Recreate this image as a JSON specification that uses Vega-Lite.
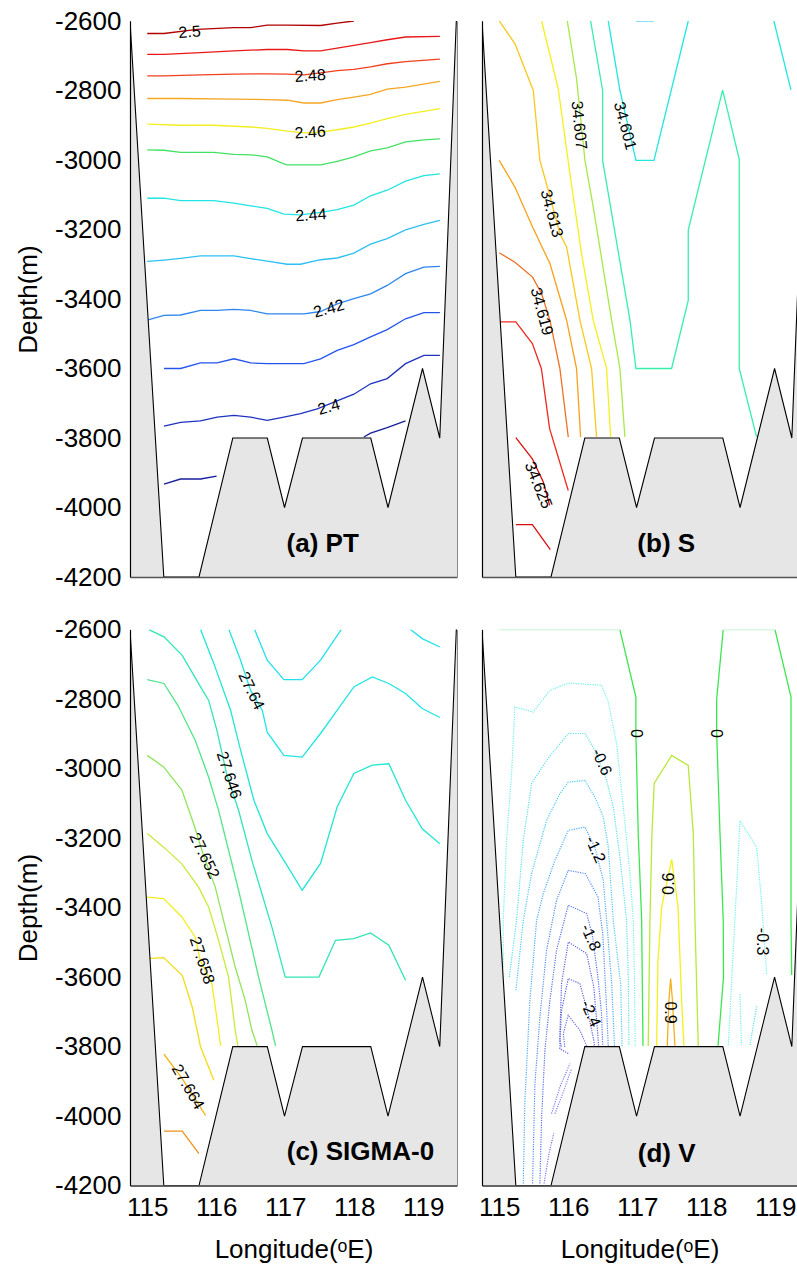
{
"$schema":"https://vega.github.io/schema/vega-lite/v6.json",
"padding":{"left":15,"top":8,"right":0,"bottom":0},
"config":{"view":{"stroke":null},"font":"Liberation Sans","axis":{"grid":false,"labelFont":"Liberation Sans","titleFont":"Liberation Sans"},"text":{"font":"Liberation Sans"}},
"datasets":{
"bathy":[{"lon":114.75,"depth":-2600},{"lon":115.24,"depth":-4200},{"lon":115.75,"depth":-4200},{"lon":116.24,"depth":-3800},{"lon":116.74,"depth":-3800},{"lon":116.99,"depth":-4000},{"lon":117.25,"depth":-3800},{"lon":118.24,"depth":-3800},{"lon":118.49,"depth":-4000},{"lon":118.99,"depth":-3600},{"lon":119.24,"depth":-3800},{"lon":119.48,"depth":-2600},{"lon":119.6,"depth":-2600}],
"pt":[
{"id":"a1","level":"2.50","lon":115.0,"depth":-2636},{"id":"a1","level":"2.50","lon":115.242,"depth":-2636},{"id":"a1","level":"2.50","lon":115.725,"depth":-2624},{"id":"a1","level":"2.50","lon":116.256,"depth":-2619},{"id":"a1","level":"2.50","lon":116.498,"depth":-2619},{"id":"a1","level":"2.50","lon":116.739,"depth":-2612},{"id":"a1","level":"2.50","lon":117.029,"depth":-2612},{"id":"a1","level":"2.50","lon":117.512,"depth":-2613},{"id":"a1","level":"2.50","lon":117.754,"depth":-2606},{"id":"a1","level":"2.50","lon":117.995,"depth":-2600},
{"id":"a2","level":"2.49","lon":115.0,"depth":-2696},{"id":"a2","level":"2.49","lon":115.242,"depth":-2696},{"id":"a2","level":"2.49","lon":115.773,"depth":-2691},{"id":"a2","level":"2.49","lon":116.256,"depth":-2686},{"id":"a2","level":"2.49","lon":116.739,"depth":-2682},{"id":"a2","level":"2.49","lon":117.029,"depth":-2682},{"id":"a2","level":"2.49","lon":117.271,"depth":-2686},{"id":"a2","level":"2.49","lon":117.512,"depth":-2686},{"id":"a2","level":"2.49","lon":117.754,"depth":-2678},{"id":"a2","level":"2.49","lon":117.995,"depth":-2670},{"id":"a2","level":"2.49","lon":118.237,"depth":-2662},{"id":"a2","level":"2.49","lon":118.478,"depth":-2654},{"id":"a2","level":"2.49","lon":118.744,"depth":-2646},{"id":"a2","level":"2.49","lon":119.242,"depth":-2644},
{"id":"a3","level":"2.48","lon":115.0,"depth":-2758},{"id":"a3","level":"2.48","lon":115.242,"depth":-2758},{"id":"a3","level":"2.48","lon":115.773,"depth":-2755},{"id":"a3","level":"2.48","lon":116.256,"depth":-2753},{"id":"a3","level":"2.48","lon":116.739,"depth":-2752},{"id":"a3","level":"2.48","lon":117.029,"depth":-2753},{"id":"a3","level":"2.48","lon":117.271,"depth":-2755},{"id":"a3","level":"2.48","lon":117.512,"depth":-2749},{"id":"a3","level":"2.48","lon":117.754,"depth":-2743},{"id":"a3","level":"2.48","lon":117.995,"depth":-2739},{"id":"a3","level":"2.48","lon":118.237,"depth":-2732},{"id":"a3","level":"2.48","lon":118.478,"depth":-2723},{"id":"a3","level":"2.48","lon":118.744,"depth":-2717},{"id":"a3","level":"2.48","lon":119.242,"depth":-2710},
{"id":"a4","level":"2.47","lon":115.0,"depth":-2823},{"id":"a4","level":"2.47","lon":115.483,"depth":-2823},{"id":"a4","level":"2.47","lon":116.256,"depth":-2825},{"id":"a4","level":"2.47","lon":116.739,"depth":-2826},{"id":"a4","level":"2.47","lon":117.029,"depth":-2828},{"id":"a4","level":"2.47","lon":117.271,"depth":-2836},{"id":"a4","level":"2.47","lon":117.512,"depth":-2836},{"id":"a4","level":"2.47","lon":117.754,"depth":-2826},{"id":"a4","level":"2.47","lon":117.995,"depth":-2819},{"id":"a4","level":"2.47","lon":118.237,"depth":-2811},{"id":"a4","level":"2.47","lon":118.478,"depth":-2796},{"id":"a4","level":"2.47","lon":118.744,"depth":-2790},{"id":"a4","level":"2.47","lon":119.242,"depth":-2774},
{"id":"a5","level":"2.46","lon":115.0,"depth":-2897},{"id":"a5","level":"2.46","lon":115.483,"depth":-2900},{"id":"a5","level":"2.46","lon":115.966,"depth":-2900},{"id":"a5","level":"2.46","lon":116.498,"depth":-2905},{"id":"a5","level":"2.46","lon":116.739,"depth":-2909},{"id":"a5","level":"2.46","lon":117.029,"depth":-2917},{"id":"a5","level":"2.46","lon":117.271,"depth":-2922},{"id":"a5","level":"2.46","lon":117.512,"depth":-2920},{"id":"a5","level":"2.46","lon":117.754,"depth":-2913},{"id":"a5","level":"2.46","lon":117.995,"depth":-2905},{"id":"a5","level":"2.46","lon":118.237,"depth":-2894},{"id":"a5","level":"2.46","lon":118.478,"depth":-2881},{"id":"a5","level":"2.46","lon":118.744,"depth":-2869},{"id":"a5","level":"2.46","lon":119.242,"depth":-2852},
{"id":"a6","level":"2.45","lon":115.0,"depth":-2971},{"id":"a6","level":"2.45","lon":115.242,"depth":-2972},{"id":"a6","level":"2.45","lon":115.483,"depth":-2978},{"id":"a6","level":"2.45","lon":115.966,"depth":-2978},{"id":"a6","level":"2.45","lon":116.256,"depth":-2984},{"id":"a6","level":"2.45","lon":116.498,"depth":-2985},{"id":"a6","level":"2.45","lon":116.739,"depth":-2991},{"id":"a6","level":"2.45","lon":116.981,"depth":-3011},{"id":"a6","level":"2.45","lon":117.029,"depth":-3014},{"id":"a6","level":"2.45","lon":117.512,"depth":-3014},{"id":"a6","level":"2.45","lon":117.754,"depth":-3004},{"id":"a6","level":"2.45","lon":117.995,"depth":-2991},{"id":"a6","level":"2.45","lon":118.237,"depth":-2974},{"id":"a6","level":"2.45","lon":118.478,"depth":-2965},{"id":"a6","level":"2.45","lon":118.744,"depth":-2948},{"id":"a6","level":"2.45","lon":119.01,"depth":-2942},{"id":"a6","level":"2.45","lon":119.242,"depth":-2939},
{"id":"a7","level":"2.44","lon":115.0,"depth":-3110},{"id":"a7","level":"2.44","lon":115.242,"depth":-3110},{"id":"a7","level":"2.44","lon":115.483,"depth":-3117},{"id":"a7","level":"2.44","lon":115.966,"depth":-3117},{"id":"a7","level":"2.44","lon":116.256,"depth":-3124},{"id":"a7","level":"2.44","lon":116.498,"depth":-3132},{"id":"a7","level":"2.44","lon":116.739,"depth":-3139},{"id":"a7","level":"2.44","lon":116.981,"depth":-3156},{"id":"a7","level":"2.44","lon":117.222,"depth":-3158},{"id":"a7","level":"2.44","lon":117.512,"depth":-3151},{"id":"a7","level":"2.44","lon":117.754,"depth":-3143},{"id":"a7","level":"2.44","lon":117.995,"depth":-3130},{"id":"a7","level":"2.44","lon":118.237,"depth":-3103},{"id":"a7","level":"2.44","lon":118.478,"depth":-3087},{"id":"a7","level":"2.44","lon":118.744,"depth":-3061},{"id":"a7","level":"2.44","lon":119.01,"depth":-3045},{"id":"a7","level":"2.44","lon":119.242,"depth":-3040},
{"id":"a8","level":"2.43","lon":115.0,"depth":-3292},{"id":"a8","level":"2.43","lon":115.242,"depth":-3288},{"id":"a8","level":"2.43","lon":115.483,"depth":-3283},{"id":"a8","level":"2.43","lon":115.773,"depth":-3276},{"id":"a8","level":"2.43","lon":116.256,"depth":-3276},{"id":"a8","level":"2.43","lon":116.498,"depth":-3284},{"id":"a8","level":"2.43","lon":116.739,"depth":-3291},{"id":"a8","level":"2.43","lon":117.029,"depth":-3300},{"id":"a8","level":"2.43","lon":117.222,"depth":-3300},{"id":"a8","level":"2.43","lon":117.512,"depth":-3287},{"id":"a8","level":"2.43","lon":117.754,"depth":-3282},{"id":"a8","level":"2.43","lon":117.995,"depth":-3268},{"id":"a8","level":"2.43","lon":118.237,"depth":-3242},{"id":"a8","level":"2.43","lon":118.478,"depth":-3226},{"id":"a8","level":"2.43","lon":118.744,"depth":-3201},{"id":"a8","level":"2.43","lon":119.01,"depth":-3185},{"id":"a8","level":"2.43","lon":119.242,"depth":-3174},
{"id":"a9","level":"2.42","lon":115.0,"depth":-3461},{"id":"a9","level":"2.42","lon":115.242,"depth":-3447},{"id":"a9","level":"2.42","lon":115.483,"depth":-3446},{"id":"a9","level":"2.42","lon":115.773,"depth":-3433},{"id":"a9","level":"2.42","lon":116.014,"depth":-3433},{"id":"a9","level":"2.42","lon":116.256,"depth":-3430},{"id":"a9","level":"2.42","lon":116.498,"depth":-3433},{"id":"a9","level":"2.42","lon":116.739,"depth":-3443},{"id":"a9","level":"2.42","lon":116.981,"depth":-3443},{"id":"a9","level":"2.42","lon":117.271,"depth":-3443},{"id":"a9","level":"2.42","lon":117.512,"depth":-3436},{"id":"a9","level":"2.42","lon":117.754,"depth":-3414},{"id":"a9","level":"2.42","lon":117.995,"depth":-3399},{"id":"a9","level":"2.42","lon":118.237,"depth":-3385},{"id":"a9","level":"2.42","lon":118.478,"depth":-3361},{"id":"a9","level":"2.42","lon":118.744,"depth":-3327},{"id":"a9","level":"2.42","lon":119.01,"depth":-3308},{"id":"a9","level":"2.42","lon":119.242,"depth":-3306},
{"id":"a10","level":"2.41","lon":115.242,"depth":-3600},{"id":"a10","level":"2.41","lon":115.483,"depth":-3600},{"id":"a10","level":"2.41","lon":115.773,"depth":-3584},{"id":"a10","level":"2.41","lon":116.014,"depth":-3584},{"id":"a10","level":"2.41","lon":116.256,"depth":-3572},{"id":"a10","level":"2.41","lon":116.498,"depth":-3584},{"id":"a10","level":"2.41","lon":116.739,"depth":-3586},{"id":"a10","level":"2.41","lon":117.271,"depth":-3586},{"id":"a10","level":"2.41","lon":117.512,"depth":-3572},{"id":"a10","level":"2.41","lon":117.754,"depth":-3548},{"id":"a10","level":"2.41","lon":117.995,"depth":-3531},{"id":"a10","level":"2.41","lon":118.237,"depth":-3509},{"id":"a10","level":"2.41","lon":118.478,"depth":-3488},{"id":"a10","level":"2.41","lon":118.744,"depth":-3457},{"id":"a10","level":"2.41","lon":119.01,"depth":-3439},{"id":"a10","level":"2.41","lon":119.242,"depth":-3439},
{"id":"a11","level":"2.40","lon":115.242,"depth":-3766},{"id":"a11","level":"2.40","lon":115.483,"depth":-3755},{"id":"a11","level":"2.40","lon":115.773,"depth":-3751},{"id":"a11","level":"2.40","lon":116.014,"depth":-3740},{"id":"a11","level":"2.40","lon":116.256,"depth":-3735},{"id":"a11","level":"2.40","lon":116.498,"depth":-3740},{"id":"a11","level":"2.40","lon":116.739,"depth":-3749},{"id":"a11","level":"2.40","lon":116.981,"depth":-3740},{"id":"a11","level":"2.40","lon":117.222,"depth":-3730},{"id":"a11","level":"2.40","lon":117.464,"depth":-3716},{"id":"a11","level":"2.40","lon":117.995,"depth":-3674},{"id":"a11","level":"2.40","lon":118.237,"depth":-3644},{"id":"a11","level":"2.40","lon":118.478,"depth":-3629},{"id":"a11","level":"2.40","lon":118.744,"depth":-3586},{"id":"a11","level":"2.40","lon":119.01,"depth":-3562},{"id":"a11","level":"2.40","lon":119.242,"depth":-3562},
{"id":"a12","level":"2.39","lon":115.242,"depth":-3933},{"id":"a12","level":"2.39","lon":115.483,"depth":-3918},{"id":"a12","level":"2.39","lon":115.773,"depth":-3918},{"id":"a12","level":"2.39","lon":116.005,"depth":-3910},
{"id":"a13","level":"2.39","lon":118.14,"depth":-3797},{"id":"a13","level":"2.39","lon":118.237,"depth":-3786},{"id":"a13","level":"2.39","lon":118.478,"depth":-3770},{"id":"a13","level":"2.39","lon":118.744,"depth":-3751}
],
"pt_lab":[{"label":"2.5","lon":115.614,"depth":-2632},{"label":"2.48","lon":117.362,"depth":-2758},{"label":"2.46","lon":117.362,"depth":-2921},{"label":"2.44","lon":117.372,"depth":-3159},{"label":"2.42","lon":117.633,"depth":-3428},{"label":"2.4","lon":117.633,"depth":-3711}],
"s":[
{"id":"b1","level":"34.598","lon":116.981,"depth":-2600},{"id":"b1","level":"34.598","lon":117.242,"depth":-2600},
{"id":"b2","level":"34.601","lon":116.58,"depth":-2600},{"id":"b2","level":"34.601","lon":116.749,"depth":-2800},{"id":"b2","level":"34.601","lon":116.981,"depth":-3001},{"id":"b2","level":"34.601","lon":117.242,"depth":-3001},{"id":"b2","level":"34.601","lon":117.739,"depth":-2600},
{"id":"b3","level":"34.601","lon":118.98,"depth":-2600},{"id":"b3","level":"34.601","lon":119.227,"depth":-2798},
{"id":"b4","level":"34.604","lon":116.324,"depth":-2600},{"id":"b4","level":"34.604","lon":116.498,"depth":-2800},{"id":"b4","level":"34.604","lon":116.498,"depth":-3001},{"id":"b4","level":"34.604","lon":116.894,"depth":-3461},{"id":"b4","level":"34.604","lon":116.981,"depth":-3600},{"id":"b4","level":"34.604","lon":117.498,"depth":-3600},{"id":"b4","level":"34.604","lon":117.739,"depth":-3404},{"id":"b4","level":"34.604","lon":117.739,"depth":-3202},{"id":"b4","level":"34.604","lon":118.237,"depth":-2799},{"id":"b4","level":"34.604","lon":118.478,"depth":-2998},{"id":"b4","level":"34.604","lon":118.478,"depth":-3600},{"id":"b4","level":"34.604","lon":118.729,"depth":-3797},
{"id":"b5","level":"34.607","lon":115.986,"depth":-2600},{"id":"b5","level":"34.607","lon":116.12,"depth":-2766},{"id":"b5","level":"34.607","lon":116.242,"depth":-3001},{"id":"b5","level":"34.607","lon":116.362,"depth":-3135},{"id":"b5","level":"34.607","lon":116.628,"depth":-3461},{"id":"b5","level":"34.607","lon":116.749,"depth":-3600},{"id":"b5","level":"34.607","lon":116.821,"depth":-3797},
{"id":"b6","level":"34.610","lon":115.614,"depth":-2600},{"id":"b6","level":"34.610","lon":115.855,"depth":-2795},{"id":"b6","level":"34.610","lon":116.024,"depth":-3039},{"id":"b6","level":"34.610","lon":116.193,"depth":-3270},{"id":"b6","level":"34.610","lon":116.362,"depth":-3461},{"id":"b6","level":"34.610","lon":116.556,"depth":-3600},{"id":"b6","level":"34.610","lon":116.614,"depth":-3797},
{"id":"b7","level":"34.613","lon":115.0,"depth":-2600},{"id":"b7","level":"34.613","lon":115.227,"depth":-2665},{"id":"b7","level":"34.613","lon":115.493,"depth":-2800},{"id":"b7","level":"34.613","lon":115.589,"depth":-3001},{"id":"b7","level":"34.613","lon":115.71,"depth":-3087},{"id":"b7","level":"34.613","lon":115.879,"depth":-3212},{"id":"b7","level":"34.613","lon":115.976,"depth":-3250},{"id":"b7","level":"34.613","lon":116.169,"depth":-3461},{"id":"b7","level":"34.613","lon":116.338,"depth":-3600},{"id":"b7","level":"34.613","lon":116.41,"depth":-3797},
{"id":"b8","level":"34.616","lon":115.0,"depth":-3001},{"id":"b8","level":"34.616","lon":115.227,"depth":-3078},{"id":"b8","level":"34.616","lon":115.483,"depth":-3193},{"id":"b8","level":"34.616","lon":115.734,"depth":-3298},{"id":"b8","level":"34.616","lon":115.976,"depth":-3461},{"id":"b8","level":"34.616","lon":116.12,"depth":-3600},{"id":"b8","level":"34.616","lon":116.179,"depth":-3797},
{"id":"b9","level":"34.619","lon":115.0,"depth":-3267},{"id":"b9","level":"34.619","lon":115.227,"depth":-3294},{"id":"b9","level":"34.619","lon":115.483,"depth":-3337},{"id":"b9","level":"34.619","lon":115.614,"depth":-3385},{"id":"b9","level":"34.619","lon":115.734,"depth":-3461},{"id":"b9","level":"34.619","lon":115.879,"depth":-3600},{"id":"b9","level":"34.619","lon":116.0,"depth":-3797},
{"id":"b10","level":"34.622","lon":115.0,"depth":-3466},{"id":"b10","level":"34.622","lon":115.24,"depth":-3466},{"id":"b10","level":"34.622","lon":115.48,"depth":-3528},{"id":"b10","level":"34.622","lon":115.61,"depth":-3600},{"id":"b10","level":"34.622","lon":115.73,"depth":-3773},{"id":"b10","level":"34.622","lon":116.0,"depth":-3951},
{"id":"b11","level":"34.625","lon":115.24,"depth":-3799},{"id":"b11","level":"34.625","lon":115.48,"depth":-3860},{"id":"b11","level":"34.625","lon":115.64,"depth":-3927},{"id":"b11","level":"34.625","lon":115.73,"depth":-3994},
{"id":"b12","level":"34.625","lon":115.24,"depth":-4049},{"id":"b12","level":"34.625","lon":115.48,"depth":-4049},{"id":"b12","level":"34.625","lon":115.74,"depth":-4121}
],
"s_lab":[{"label":"34.607","lon":116.155,"depth":-2900},{"label":"34.601","lon":116.821,"depth":-2902},{"label":"34.613","lon":115.758,"depth":-3154},{"label":"34.619","lon":115.614,"depth":-3436},{"label":"34.625","lon":115.565,"depth":-3936}],
"sg":[
{"id":"c1","level":"27.637","lon":116.556,"depth":-2600},{"id":"c1","level":"27.637","lon":116.739,"depth":-2688},{"id":"c1","level":"27.637","lon":116.981,"depth":-2744},{"id":"c1","level":"27.637","lon":117.246,"depth":-2744},{"id":"c1","level":"27.637","lon":117.512,"depth":-2688},{"id":"c1","level":"27.637","lon":117.812,"depth":-2600},
{"id":"c2","level":"27.637","lon":118.816,"depth":-2600},{"id":"c2","level":"27.637","lon":118.986,"depth":-2626},{"id":"c2","level":"27.637","lon":119.242,"depth":-2650},
{"id":"c3","level":"27.640","lon":116.184,"depth":-2600},{"id":"c3","level":"27.640","lon":116.353,"depth":-2688},{"id":"c3","level":"27.640","lon":116.498,"depth":-2775},{"id":"c3","level":"27.640","lon":116.667,"depth":-2832},{"id":"c3","level":"27.640","lon":116.739,"depth":-2895},{"id":"c3","level":"27.640","lon":116.981,"depth":-2962},{"id":"c3","level":"27.640","lon":117.246,"depth":-2967},{"id":"c3","level":"27.640","lon":117.512,"depth":-2899},{"id":"c3","level":"27.640","lon":117.754,"depth":-2832},{"id":"c3","level":"27.640","lon":117.995,"depth":-2765},{"id":"c3","level":"27.640","lon":118.261,"depth":-2736},{"id":"c3","level":"27.640","lon":118.502,"depth":-2755},{"id":"c3","level":"27.640","lon":118.744,"depth":-2784},{"id":"c3","level":"27.640","lon":118.986,"depth":-2827},{"id":"c3","level":"27.640","lon":119.242,"depth":-2853},
{"id":"c4","level":"27.643","lon":115.773,"depth":-2600},{"id":"c4","level":"27.643","lon":115.966,"depth":-2698},{"id":"c4","level":"27.643","lon":116.208,"depth":-2832},{"id":"c4","level":"27.643","lon":116.353,"depth":-2947},{"id":"c4","level":"27.643","lon":116.546,"depth":-3091},{"id":"c4","level":"27.643","lon":116.739,"depth":-3187},{"id":"c4","level":"27.643","lon":116.981,"depth":-3264},{"id":"c4","level":"27.643","lon":117.246,"depth":-3350},{"id":"c4","level":"27.643","lon":117.512,"depth":-3273},{"id":"c4","level":"27.643","lon":117.754,"depth":-3110},{"id":"c4","level":"27.643","lon":117.995,"depth":-3014},{"id":"c4","level":"27.643","lon":118.261,"depth":-2990},{"id":"c4","level":"27.643","lon":118.502,"depth":-2986},{"id":"c4","level":"27.643","lon":118.744,"depth":-3091},{"id":"c4","level":"27.643","lon":118.986,"depth":-3173},{"id":"c4","level":"27.643","lon":119.242,"depth":-3216},
{"id":"c5","level":"27.646","lon":115.024,"depth":-2600},{"id":"c5","level":"27.646","lon":115.242,"depth":-2621},{"id":"c5","level":"27.646","lon":115.507,"depth":-2674},{"id":"c5","level":"27.646","lon":115.773,"depth":-2765},{"id":"c5","level":"27.646","lon":115.889,"depth":-2803},{"id":"c5","level":"27.646","lon":116.01,"depth":-2890},{"id":"c5","level":"27.646","lon":116.155,"depth":-3019},{"id":"c5","level":"27.646","lon":116.324,"depth":-3120},{"id":"c5","level":"27.646","lon":116.517,"depth":-3264},{"id":"c5","level":"27.646","lon":116.662,"depth":-3360},{"id":"c5","level":"27.646","lon":116.807,"depth":-3456},{"id":"c5","level":"27.646","lon":117.0,"depth":-3600},{"id":"c5","level":"27.646","lon":117.488,"depth":-3600},{"id":"c5","level":"27.646","lon":117.729,"depth":-3494},{"id":"c5","level":"27.646","lon":117.995,"depth":-3489},{"id":"c5","level":"27.646","lon":118.237,"depth":-3473},{"id":"c5","level":"27.646","lon":118.502,"depth":-3508},{"id":"c5","level":"27.646","lon":118.744,"depth":-3609},
{"id":"c6","level":"27.649","lon":115.0,"depth":-2744},{"id":"c6","level":"27.649","lon":115.242,"depth":-2755},{"id":"c6","level":"27.649","lon":115.45,"depth":-2820},{"id":"c6","level":"27.649","lon":115.696,"depth":-2919},{"id":"c6","level":"27.649","lon":115.889,"depth":-3024},{"id":"c6","level":"27.649","lon":116.034,"depth":-3120},{"id":"c6","level":"27.649","lon":116.179,"depth":-3235},{"id":"c6","level":"27.649","lon":116.324,"depth":-3350},{"id":"c6","level":"27.649","lon":116.469,"depth":-3475},{"id":"c6","level":"27.649","lon":116.614,"depth":-3600},{"id":"c6","level":"27.649","lon":116.807,"depth":-3753},{"id":"c6","level":"27.649","lon":116.86,"depth":-3798},
{"id":"c7","level":"27.652","lon":115.0,"depth":-2962},{"id":"c7","level":"27.652","lon":115.237,"depth":-2995},{"id":"c7","level":"27.652","lon":115.502,"depth":-3062},{"id":"c7","level":"27.652","lon":115.671,"depth":-3158},{"id":"c7","level":"27.652","lon":115.816,"depth":-3250},{"id":"c7","level":"27.652","lon":115.986,"depth":-3341},{"id":"c7","level":"27.652","lon":116.13,"depth":-3456},{"id":"c7","level":"27.652","lon":116.275,"depth":-3571},{"id":"c7","level":"27.652","lon":116.42,"depth":-3667},{"id":"c7","level":"27.652","lon":116.517,"depth":-3753},{"id":"c7","level":"27.652","lon":116.594,"depth":-3798},
{"id":"c8","level":"27.655","lon":115.0,"depth":-3187},{"id":"c8","level":"27.655","lon":115.237,"depth":-3226},{"id":"c8","level":"27.655","lon":115.502,"depth":-3274},{"id":"c8","level":"27.655","lon":115.744,"depth":-3341},{"id":"c8","level":"27.655","lon":115.889,"depth":-3398},{"id":"c8","level":"27.655","lon":116.034,"depth":-3494},{"id":"c8","level":"27.655","lon":116.179,"depth":-3600},{"id":"c8","level":"27.655","lon":116.275,"depth":-3753},{"id":"c8","level":"27.655","lon":116.314,"depth":-3798},
{"id":"c9","level":"27.658","lon":115.0,"depth":-3370},{"id":"c9","level":"27.658","lon":115.237,"depth":-3374},{"id":"c9","level":"27.658","lon":115.502,"depth":-3427},{"id":"c9","level":"27.658","lon":115.696,"depth":-3485},{"id":"c9","level":"27.658","lon":115.768,"depth":-3552},{"id":"c9","level":"27.658","lon":115.937,"depth":-3619},{"id":"c9","level":"27.658","lon":116.034,"depth":-3753},{"id":"c9","level":"27.658","lon":116.063,"depth":-3798},
{"id":"c10","level":"27.661","lon":115.0,"depth":-3547},{"id":"c10","level":"27.661","lon":115.237,"depth":-3544},{"id":"c10","level":"27.661","lon":115.507,"depth":-3595},{"id":"c10","level":"27.661","lon":115.652,"depth":-3686},{"id":"c10","level":"27.661","lon":115.773,"depth":-3801},{"id":"c10","level":"27.661","lon":115.966,"depth":-3897},
{"id":"c11","level":"27.664","lon":115.242,"depth":-3822},{"id":"c11","level":"27.664","lon":115.5,"depth":-3890},{"id":"c11","level":"27.664","lon":115.845,"depth":-3998},
{"id":"c12","level":"27.667","lon":115.242,"depth":-4043},{"id":"c12","level":"27.667","lon":115.507,"depth":-4043},{"id":"c12","level":"27.667","lon":115.749,"depth":-4108}
],
"sg_lab":[{"label":"27.64","lon":116.507,"depth":-2776},{"label":"27.646","lon":116.184,"depth":-3019},{"label":"27.652","lon":115.826,"depth":-3251},{"label":"27.658","lon":115.792,"depth":-3552},{"label":"27.664","lon":115.589,"depth":-3916}],
"v":[
{"id":"d1","level":"0","lon":116.748,"depth":-2600},{"id":"d1","level":"0","lon":116.98,"depth":-2794},{"id":"d1","level":"0","lon":116.98,"depth":-2899},{"id":"d1","level":"0","lon":117.014,"depth":-3187},{"id":"d1","level":"0","lon":117.064,"depth":-3437},{"id":"d1","level":"0","lon":117.083,"depth":-3798},
{"id":"d2","level":"0","lon":118.246,"depth":-2600},{"id":"d2","level":"0","lon":118.151,"depth":-2799},{"id":"d2","level":"0","lon":118.151,"depth":-2899},{"id":"d2","level":"0","lon":118.199,"depth":-3187},{"id":"d2","level":"0","lon":118.246,"depth":-3437},{"id":"d2","level":"0","lon":118.25,"depth":-3600},{"id":"d2","level":"0","lon":118.17,"depth":-3798},
{"id":"d3","level":"0","lon":118.996,"depth":-2600},{"id":"d3","level":"0","lon":119.228,"depth":-2794},{"id":"d3","level":"0","lon":119.228,"depth":-3437},{"id":"d3","level":"0","lon":119.238,"depth":-3594},
{"id":"d4","level":"0.3","lon":117.159,"depth":-3798},{"id":"d4","level":"0.3","lon":117.184,"depth":-3437},{"id":"d4","level":"0.3","lon":117.213,"depth":-3186},{"id":"d4","level":"0.3","lon":117.246,"depth":-3042},{"id":"d4","level":"0.3","lon":117.499,"depth":-2962},{"id":"d4","level":"0.3","lon":117.739,"depth":-2991},{"id":"d4","level":"0.3","lon":117.812,"depth":-3187},{"id":"d4","level":"0.3","lon":117.836,"depth":-3437},{"id":"d4","level":"0.3","lon":117.884,"depth":-3798},
{"id":"d5","level":"0.6","lon":117.281,"depth":-3798},{"id":"d5","level":"0.6","lon":117.3,"depth":-3552},{"id":"d5","level":"0.6","lon":117.354,"depth":-3398},{"id":"d5","level":"0.6","lon":117.499,"depth":-3261},{"id":"d5","level":"0.6","lon":117.59,"depth":-3396},{"id":"d5","level":"0.6","lon":117.643,"depth":-3667},{"id":"d5","level":"0.6","lon":117.677,"depth":-3798},
{"id":"d6","level":"0.9","lon":117.435,"depth":-3798},{"id":"d6","level":"0.9","lon":117.459,"depth":-3667},{"id":"d6","level":"0.9","lon":117.484,"depth":-3604},{"id":"d6","level":"0.9","lon":117.51,"depth":-3667},{"id":"d6","level":"0.9","lon":117.546,"depth":-3798},
{"id":"d7","level":"-0.3","lon":115.058,"depth":-3571},{"id":"d7","level":"-0.3","lon":115.058,"depth":-3437},{"id":"d7","level":"-0.3","lon":115.106,"depth":-3206},{"id":"d7","level":"-0.3","lon":115.179,"depth":-3014},{"id":"d7","level":"-0.3","lon":115.227,"depth":-2823},{"id":"d7","level":"-0.3","lon":115.493,"depth":-2837},{"id":"d7","level":"-0.3","lon":115.734,"depth":-2775},{"id":"d7","level":"-0.3","lon":116.0,"depth":-2754},{"id":"d7","level":"-0.3","lon":116.483,"depth":-2760},{"id":"d7","level":"-0.3","lon":116.58,"depth":-2808},{"id":"d7","level":"-0.3","lon":116.7,"depth":-2928},{"id":"d7","level":"-0.3","lon":116.797,"depth":-3110},{"id":"d7","level":"-0.3","lon":116.894,"depth":-3302},{"id":"d7","level":"-0.3","lon":116.942,"depth":-3437},{"id":"d7","level":"-0.3","lon":116.96,"depth":-3600},{"id":"d7","level":"-0.3","lon":116.97,"depth":-3798},
{"id":"d8","level":"-0.3","lon":118.319,"depth":-3796},{"id":"d8","level":"-0.3","lon":118.441,"depth":-3337},{"id":"d8","level":"-0.3","lon":118.488,"depth":-3150},{"id":"d8","level":"-0.3","lon":118.73,"depth":-3226},{"id":"d8","level":"-0.3","lon":118.803,"depth":-3387},{"id":"d8","level":"-0.3","lon":118.875,"depth":-3594},
{"id":"d9","level":"-0.3","lon":118.488,"depth":-3649},{"id":"d9","level":"-0.3","lon":118.51,"depth":-3796},
{"id":"d10","level":"-0.6","lon":118.73,"depth":-3684},{"id":"d10","level":"-0.6","lon":118.633,"depth":-3796},
{"id":"d11","level":"-0.6","lon":115.145,"depth":-3600},{"id":"d11","level":"-0.6","lon":115.251,"depth":-3437},{"id":"d11","level":"-0.6","lon":115.348,"depth":-3206},{"id":"d11","level":"-0.6","lon":115.469,"depth":-3043},{"id":"d11","level":"-0.6","lon":115.686,"depth":-2976},{"id":"d11","level":"-0.6","lon":116.0,"depth":-2899},{"id":"d11","level":"-0.6","lon":116.242,"depth":-2899},{"id":"d11","level":"-0.6","lon":116.386,"depth":-2947},{"id":"d11","level":"-0.6","lon":116.556,"depth":-3034},{"id":"d11","level":"-0.6","lon":116.652,"depth":-3110},{"id":"d11","level":"-0.6","lon":116.749,"depth":-3254},{"id":"d11","level":"-0.6","lon":116.845,"depth":-3437},{"id":"d11","level":"-0.6","lon":116.87,"depth":-3600},{"id":"d11","level":"-0.6","lon":116.88,"depth":-3798},
{"id":"d12","level":"-0.9","lon":115.242,"depth":-3638},{"id":"d12","level":"-0.9","lon":115.348,"depth":-3437},{"id":"d12","level":"-0.9","lon":115.469,"depth":-3302},{"id":"d12","level":"-0.9","lon":115.686,"depth":-3149},{"id":"d12","level":"-0.9","lon":115.879,"depth":-3072},{"id":"d12","level":"-0.9","lon":116.0,"depth":-3039},{"id":"d12","level":"-0.9","lon":116.242,"depth":-3034},{"id":"d12","level":"-0.9","lon":116.386,"depth":-3082},{"id":"d12","level":"-0.9","lon":116.507,"depth":-3139},{"id":"d12","level":"-0.9","lon":116.58,"depth":-3226},{"id":"d12","level":"-0.9","lon":116.652,"depth":-3437},{"id":"d12","level":"-0.9","lon":116.76,"depth":-3620},{"id":"d12","level":"-0.9","lon":116.78,"depth":-3798},
{"id":"d13","level":"-1.2","lon":115.348,"depth":-4194},{"id":"d13","level":"-1.2","lon":115.372,"depth":-3955},{"id":"d13","level":"-1.2","lon":115.444,"depth":-3667},{"id":"d13","level":"-1.2","lon":115.541,"depth":-3437},{"id":"d13","level":"-1.2","lon":115.638,"depth":-3360},{"id":"d13","level":"-1.2","lon":115.807,"depth":-3264},{"id":"d13","level":"-1.2","lon":116.0,"depth":-3178},{"id":"d13","level":"-1.2","lon":116.242,"depth":-3168},{"id":"d13","level":"-1.2","lon":116.386,"depth":-3226},{"id":"d13","level":"-1.2","lon":116.507,"depth":-3321},{"id":"d13","level":"-1.2","lon":116.556,"depth":-3437},{"id":"d13","level":"-1.2","lon":116.63,"depth":-3620},{"id":"d13","level":"-1.2","lon":116.67,"depth":-3798},
{"id":"d14","level":"-1.5","lon":115.483,"depth":-4194},{"id":"d14","level":"-1.5","lon":115.517,"depth":-3907},{"id":"d14","level":"-1.5","lon":115.589,"depth":-3715},{"id":"d14","level":"-1.5","lon":115.686,"depth":-3523},{"id":"d14","level":"-1.5","lon":115.83,"depth":-3379},{"id":"d14","level":"-1.5","lon":116.0,"depth":-3293},{"id":"d14","level":"-1.5","lon":116.246,"depth":-3302},{"id":"d14","level":"-1.5","lon":116.43,"depth":-3369},{"id":"d14","level":"-1.5","lon":116.5,"depth":-3475},{"id":"d14","level":"-1.5","lon":116.55,"depth":-3667},{"id":"d14","level":"-1.5","lon":116.58,"depth":-3798},
{"id":"d15","level":"-1.8","lon":115.589,"depth":-4194},{"id":"d15","level":"-1.8","lon":115.614,"depth":-4003},{"id":"d15","level":"-1.8","lon":115.662,"depth":-3811},{"id":"d15","level":"-1.8","lon":115.734,"depth":-3667},{"id":"d15","level":"-1.8","lon":115.83,"depth":-3523},{"id":"d15","level":"-1.8","lon":116.0,"depth":-3393},{"id":"d15","level":"-1.8","lon":116.266,"depth":-3417},{"id":"d15","level":"-1.8","lon":116.35,"depth":-3480},{"id":"d15","level":"-1.8","lon":116.43,"depth":-3600},{"id":"d15","level":"-1.8","lon":116.48,"depth":-3700},{"id":"d15","level":"-1.8","lon":116.5,"depth":-3798},
{"id":"d16","level":"-2.1","lon":116.0,"depth":-3820},{"id":"d16","level":"-2.1","lon":115.879,"depth":-3806},{"id":"d16","level":"-2.1","lon":115.879,"depth":-3763},{"id":"d16","level":"-2.1","lon":115.903,"depth":-3619},{"id":"d16","level":"-2.1","lon":116.0,"depth":-3499},{"id":"d16","level":"-2.1","lon":116.266,"depth":-3532},{"id":"d16","level":"-2.1","lon":116.37,"depth":-3628},{"id":"d16","level":"-2.1","lon":116.42,"depth":-3744},{"id":"d16","level":"-2.1","lon":116.44,"depth":-3798},
{"id":"d17","level":"-2.4","lon":115.9,"depth":-3800},{"id":"d17","level":"-2.4","lon":115.879,"depth":-3782},{"id":"d17","level":"-2.4","lon":115.903,"depth":-3696},{"id":"d17","level":"-2.4","lon":116.0,"depth":-3604},{"id":"d17","level":"-2.4","lon":116.169,"depth":-3619},{"id":"d17","level":"-2.4","lon":116.3,"depth":-3715},{"id":"d17","level":"-2.4","lon":116.37,"depth":-3782},{"id":"d17","level":"-2.4","lon":116.38,"depth":-3798},
{"id":"d18","level":"-2.7","lon":115.95,"depth":-3801},{"id":"d18","level":"-2.7","lon":115.928,"depth":-3763},{"id":"d18","level":"-2.7","lon":116.0,"depth":-3710},{"id":"d18","level":"-2.7","lon":116.169,"depth":-3753},{"id":"d18","level":"-2.7","lon":116.266,"depth":-3798},
{"id":"d19","level":"-3.0","lon":115.758,"depth":-3993},{"id":"d19","level":"-3.0","lon":115.879,"depth":-3916},{"id":"d19","level":"-3.0","lon":116.024,"depth":-3849},
{"id":"d20","level":"-3.3","lon":115.807,"depth":-3993},{"id":"d20","level":"-3.3","lon":115.928,"depth":-3931},{"id":"d20","level":"-3.3","lon":116.048,"depth":-3863},
{"id":"d21","level":"-3.0","lon":115.65,"depth":-4194},{"id":"d21","level":"-3.0","lon":115.72,"depth":-4108},{"id":"d21","level":"-3.0","lon":115.79,"depth":-4050}
],
"v_top":[{"id":"t1","lon":115.0,"depth":-2600},{"id":"t1","lon":116.748,"depth":-2600},{"id":"t2","lon":118.246,"depth":-2600},{"id":"t2","lon":118.996,"depth":-2600}],
"v_lab":[{"label":"0","lon":116.98,"depth":-2899},{"label":"0","lon":118.14,"depth":-2899},{"label":"-0.6","lon":116.483,"depth":-2981},{"label":"-1.2","lon":116.391,"depth":-3233},{"label":"-1.8","lon":116.324,"depth":-3486},{"label":"-2.4","lon":116.324,"depth":-3705},{"label":"0.6","lon":117.459,"depth":-3331},{"label":"0.9","lon":117.478,"depth":-3702},{"label":"-0.3","lon":118.812,"depth":-3498}]
},
"columns":2,
"spacing":{"row":52.6,"column":25},
"bounds":"flush",
"resolve":{"scale":{"color":"independent"}},
"concat":[
{
"width":327,"height":556,
"resolve":{"axis":{"y":"independent"}},
"layer":[
{"data":{"name":"pt"},"mark":{"type":"line","strokeWidth":1.3,"clip":true},
"encoding":{
"x":{"field":"lon","type":"quantitative","scale":{"domain":[114.75,119.49],"nice":false,"zero":false},"axis":{"labels":false,"ticks":false,"title":null,"domainColor":"#555","domainWidth":1.5,"zindex":1}},
"y":{"field":"depth","type":"quantitative","scale":{"domain":[-4200,-2600],"nice":false,"zero":false},"axis":{"values":[-4200,-4000,-3800,-3600,-3400,-3200,-3000,-2800,-2600],"title":"Depth(m)","labelExpr":"datum.value < 0 ? '-' + abs(datum.value) : datum.label","ticks":false,"labelPadding":9,"titlePadding":13,"labelFontSize":26,"titleFontSize":26,"titleFontWeight":"normal","labelColor":"#000","titleColor":"#000","domainColor":"#000","domainWidth":1.2,"zindex":1}},
"color":{"field":"level","type":"nominal","scale":{"domain":["2.50","2.49","2.48","2.47","2.46","2.45","2.44","2.43","2.42","2.41","2.40","2.39"],"range":["#b00000","#e81818","#f0401e","#f5a623","#f2ee22","#44e264","#22e4e4","#2ec0f2","#2e86f0","#2255ee","#1e32c0","#141e9c"]},"legend":null},
"detail":{"field":"id"},"order":{"value":null}}},
{"data":{"name":"bathy"},"mark":{"type":"area","color":"#e6e6e6","clip":true},
"encoding":{"x":{"field":"lon","type":"quantitative"},"y":{"field":"depth","type":"quantitative","axis":{"orient":"right","labels":false,"ticks":false,"title":null,"domainColor":"#888","domainWidth":1,"zindex":1}},"y2":{"datum":-4200}}},
{"data":{"name":"bathy"},"mark":{"type":"line","color":"#000","strokeWidth":1.1,"clip":true},
"encoding":{"x":{"field":"lon","type":"quantitative"},"y":{"field":"depth","type":"quantitative","axis":null}}},
{"data":{"name":"pt_lab"},"transform":[{"filter":{"field":"label","oneOf":["2.5","2.48","2.46","2.44"]}}],"mark":{"type":"text","fontSize":16,"color":"#000","angle":356},
"encoding":{"x":{"field":"lon","type":"quantitative"},"y":{"field":"depth","type":"quantitative","axis":null},"text":{"field":"label"}}},
{"data":{"name":"pt_lab"},"transform":[{"filter":{"field":"label","oneOf":["2.42","2.4"]}}],"mark":{"type":"text","fontSize":16,"color":"#000","angle":344},
"encoding":{"x":{"field":"lon","type":"quantitative"},"y":{"field":"depth","type":"quantitative","axis":null},"text":{"field":"label"}}},
{"data":{"values":[{"lon":117.543,"depth":-4104,"t":"(a) PT"}]},"mark":{"type":"text","fontSize":26,"fontWeight":"bold","color":"#000"},
"encoding":{"x":{"field":"lon","type":"quantitative"},"y":{"field":"depth","type":"quantitative","axis":null},"text":{"field":"t"}}}
]},
{
"width":315,"height":556,
"layer":[
{"data":{"name":"s"},"mark":{"type":"line","strokeWidth":1.3,"clip":true},
"encoding":{
"x":{"field":"lon","type":"quantitative","scale":{"domain":[114.75,119.315],"nice":false,"zero":false},"axis":{"labels":false,"ticks":false,"title":null,"domainColor":"#555","domainWidth":1.5,"zindex":1}},
"y":{"field":"depth","type":"quantitative","scale":{"domain":[-4200,-2600],"nice":false,"zero":false},"axis":{"labels":false,"ticks":false,"title":null,"domainColor":"#000","domainWidth":1.2,"zindex":1}},
"color":{"field":"level","type":"nominal","scale":{"domain":["34.598","34.601","34.604","34.607","34.610","34.613","34.616","34.619","34.622","34.625"],"range":["#40d4f4","#22e6e0","#36f0a8","#a8e84a","#f4f01c","#f8c81c","#f8a01c","#f07020","#ee2a1e","#d80e0e"]},"legend":null},
"detail":{"field":"id"},"order":{"value":null}}},
{"data":{"name":"bathy"},"mark":{"type":"area","color":"#e6e6e6","clip":true},
"encoding":{"x":{"field":"lon","type":"quantitative"},"y":{"field":"depth","type":"quantitative"},"y2":{"datum":-4200}}},
{"data":{"name":"bathy"},"mark":{"type":"line","color":"#000","strokeWidth":1.1,"clip":true},
"encoding":{"x":{"field":"lon","type":"quantitative"},"y":{"field":"depth","type":"quantitative"}}},
{"data":{"name":"s_lab"},"transform":[{"filter":{"field":"label","oneOf":["34.607"]}}],"mark":{"type":"text","fontSize":16,"color":"#000","angle":84},
"encoding":{"x":{"field":"lon","type":"quantitative"},"y":{"field":"depth","type":"quantitative"},"text":{"field":"label"}}},
{"data":{"name":"s_lab"},"transform":[{"filter":{"field":"label","oneOf":["34.601","34.613","34.619"]}}],"mark":{"type":"text","fontSize":16,"color":"#000","angle":75},
"encoding":{"x":{"field":"lon","type":"quantitative"},"y":{"field":"depth","type":"quantitative"},"text":{"field":"label"}}},
{"data":{"name":"s_lab"},"transform":[{"filter":{"field":"label","oneOf":["34.625"]}}],"mark":{"type":"text","fontSize":16,"color":"#000","angle":68},
"encoding":{"x":{"field":"lon","type":"quantitative"},"y":{"field":"depth","type":"quantitative"},"text":{"field":"label"}}},
{"data":{"values":[{"lon":117.42,"depth":-4106,"t":"(b) S"}]},"mark":{"type":"text","fontSize":26,"fontWeight":"bold","color":"#000"},
"encoding":{"x":{"field":"lon","type":"quantitative"},"y":{"field":"depth","type":"quantitative"},"text":{"field":"t"}}}
]},
{
"width":327,"height":556,
"resolve":{"axis":{"y":"independent"}},
"layer":[
{"data":{"name":"sg"},"mark":{"type":"line","strokeWidth":1.3,"clip":true},
"encoding":{
"x":{"field":"lon","type":"quantitative","scale":{"domain":[114.75,119.49],"nice":false,"zero":false},"axis":{"values":[115,116,117,118,119],"format":"d","title":"Longitude(ᵒE)","ticks":false,"labelPadding":9,"titlePadding":16,"labelFontSize":26,"titleFontSize":26,"titleFontWeight":"normal","labelColor":"#000","titleColor":"#000","domainColor":"#333","domainWidth":1.5,"labelFlush":false,"zindex":1}},
"y":{"field":"depth","type":"quantitative","scale":{"domain":[-4200,-2600],"nice":false,"zero":false},"axis":{"values":[-4200,-4000,-3800,-3600,-3400,-3200,-3000,-2800,-2600],"title":"Depth(m)","labelExpr":"datum.value < 0 ? '-' + abs(datum.value) : datum.label","ticks":false,"labelPadding":9,"titlePadding":13,"labelFontSize":26,"titleFontSize":26,"titleFontWeight":"normal","labelColor":"#000","titleColor":"#000","domainColor":"#000","domainWidth":1.2,"zindex":1}},
"color":{"field":"level","type":"nominal","scale":{"domain":["27.637","27.640","27.643","27.646","27.649","27.652","27.655","27.658","27.661","27.664","27.667"],"range":["#22e0f0","#22e4e4","#22e6d2","#30e6b4","#52e48a","#90e45a","#c6ec3c","#f2ee1c","#f2dc14","#f4b41c","#f0901c"]},"legend":null},
"detail":{"field":"id"},"order":{"value":null}}},
{"data":{"name":"bathy"},"mark":{"type":"area","color":"#e6e6e6","clip":true},
"encoding":{"x":{"field":"lon","type":"quantitative"},"y":{"field":"depth","type":"quantitative","axis":{"orient":"right","labels":false,"ticks":false,"title":null,"domainColor":"#888","domainWidth":1,"zindex":1}},"y2":{"datum":-4200}}},
{"data":{"name":"bathy"},"mark":{"type":"line","color":"#000","strokeWidth":1.1,"clip":true},
"encoding":{"x":{"field":"lon","type":"quantitative"},"y":{"field":"depth","type":"quantitative","axis":null}}},
{"data":{"name":"sg_lab"},"transform":[{"filter":{"field":"label","oneOf":["27.646","27.658"]}}],"mark":{"type":"text","fontSize":16,"color":"#000","angle":72},
"encoding":{"x":{"field":"lon","type":"quantitative"},"y":{"field":"depth","type":"quantitative","axis":null},"text":{"field":"label"}}},
{"data":{"name":"sg_lab"},"transform":[{"filter":{"field":"label","oneOf":["27.64","27.652"]}}],"mark":{"type":"text","fontSize":16,"color":"#000","angle":64},
"encoding":{"x":{"field":"lon","type":"quantitative"},"y":{"field":"depth","type":"quantitative","axis":null},"text":{"field":"label"}}},
{"data":{"name":"sg_lab"},"transform":[{"filter":{"field":"label","oneOf":["27.664"]}}],"mark":{"type":"text","fontSize":16,"color":"#000","angle":60},
"encoding":{"x":{"field":"lon","type":"quantitative"},"y":{"field":"depth","type":"quantitative","axis":null},"text":{"field":"label"}}},
{"data":{"values":[{"lon":118.09,"depth":-4103,"t":"(c) SIGMA-0"}]},"mark":{"type":"text","fontSize":26,"fontWeight":"bold","color":"#000"},
"encoding":{"x":{"field":"lon","type":"quantitative"},"y":{"field":"depth","type":"quantitative","axis":null},"text":{"field":"t"}}}
]},
{
"width":315,"height":556,
"layer":[
{"data":{"name":"v"},"transform":[{"filter":"toNumber(datum.level) >= 0"}],"mark":{"type":"line","strokeWidth":1.3,"clip":true},
"encoding":{
"x":{"field":"lon","type":"quantitative","scale":{"domain":[114.75,119.315],"nice":false,"zero":false},"axis":{"values":[115,116,117,118,119],"format":"d","title":"Longitude(ᵒE)","ticks":false,"labelPadding":9,"titlePadding":16,"labelFontSize":26,"titleFontSize":26,"titleFontWeight":"normal","labelColor":"#000","titleColor":"#000","domainColor":"#333","domainWidth":1.5,"labelFlush":false,"zindex":1}},
"y":{"field":"depth","type":"quantitative","scale":{"domain":[-4200,-2600],"nice":false,"zero":false},"axis":{"labels":false,"ticks":false,"title":null,"domainColor":"#000","domainWidth":1.2,"zindex":1}},
"color":{"field":"level","type":"nominal","scale":{"domain":["0.9","0.6","0.3","0","-0.3","-0.6","-0.9","-1.2","-1.5","-1.8","-2.1","-2.4","-2.7","-3.0","-3.3"],"range":["#f4b01c","#f4f01c","#b8e83a","#3ce650","#6ef0ea","#56e0f2","#4ccaf4","#4eaaf2","#5a8cee","#5a70e6","#5c60dc","#6060d8","#6a6ae0","#7878e8","#8888f0"]},"legend":null},
"detail":{"field":"id"},"order":{"value":null}}},
{"data":{"name":"v"},"transform":[{"filter":"toNumber(datum.level) < 0"}],"mark":{"type":"line","strokeWidth":1.2,"strokeDash":[1.2,1.2],"clip":true},
"encoding":{"x":{"field":"lon","type":"quantitative"},"y":{"field":"depth","type":"quantitative"},"color":{"field":"level","type":"nominal","legend":null},"detail":{"field":"id"},"order":{"value":null}}},
{"data":{"name":"v_top"},"mark":{"type":"line","strokeWidth":1.5,"color":"#b4f0c8","clip":true},
"encoding":{"x":{"field":"lon","type":"quantitative"},"y":{"field":"depth","type":"quantitative"},"detail":{"field":"id"},"order":{"value":null}}},
{"data":{"name":"bathy"},"mark":{"type":"area","color":"#e6e6e6","clip":true},
"encoding":{"x":{"field":"lon","type":"quantitative"},"y":{"field":"depth","type":"quantitative"},"y2":{"datum":-4200}}},
{"data":{"name":"bathy"},"mark":{"type":"line","color":"#000","strokeWidth":1.1,"clip":true},
"encoding":{"x":{"field":"lon","type":"quantitative"},"y":{"field":"depth","type":"quantitative"}}},
{"data":{"name":"v_lab"},"transform":[{"filter":{"field":"label","oneOf":["0","0.9","-0.3"]}}],"mark":{"type":"text","fontSize":16,"color":"#000","angle":90},
"encoding":{"x":{"field":"lon","type":"quantitative"},"y":{"field":"depth","type":"quantitative"},"text":{"field":"label"}}},
{"data":{"name":"v_lab"},"transform":[{"filter":{"field":"label","oneOf":["-0.6","-1.2","-1.8","-2.4"]}}],"mark":{"type":"text","fontSize":16,"color":"#000","angle":66},
"encoding":{"x":{"field":"lon","type":"quantitative"},"y":{"field":"depth","type":"quantitative"},"text":{"field":"label"}}},
{"data":{"name":"v_lab"},"transform":[{"filter":{"field":"label","oneOf":["0.6"]}}],"mark":{"type":"text","fontSize":16,"color":"#000","angle":270},
"encoding":{"x":{"field":"lon","type":"quantitative"},"y":{"field":"depth","type":"quantitative"},"text":{"field":"label"}}},
{"data":{"values":[{"lon":117.426,"depth":-4108,"t":"(d) V"}]},"mark":{"type":"text","fontSize":26,"fontWeight":"bold","color":"#000"},
"encoding":{"x":{"field":"lon","type":"quantitative"},"y":{"field":"depth","type":"quantitative"},"text":{"field":"t"}}}
]}
]
}
